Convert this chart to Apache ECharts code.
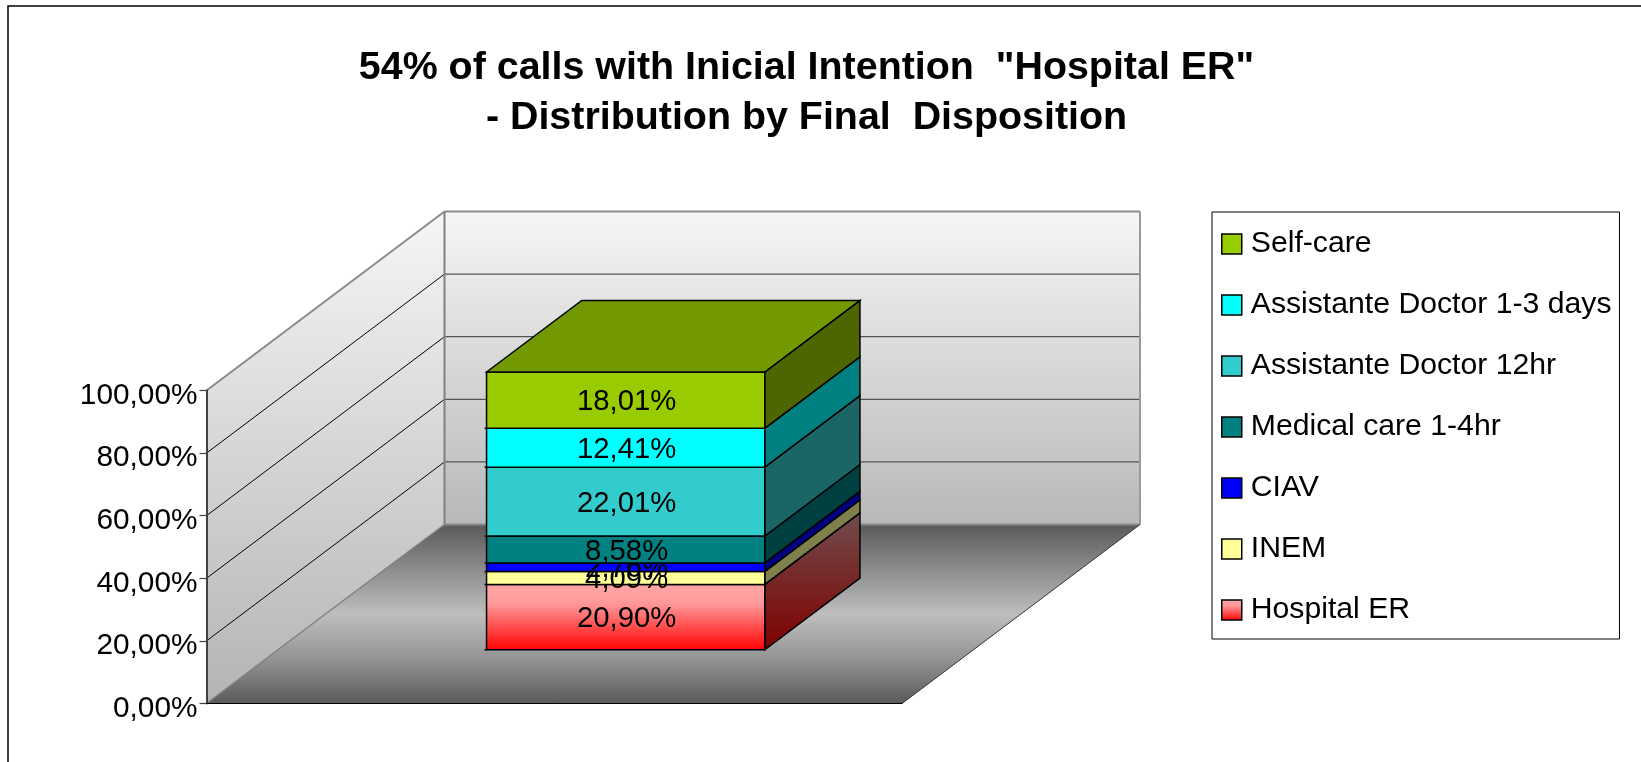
<!DOCTYPE html>
<html><head><meta charset="utf-8">
<style>html,body{margin:0;padding:0;background:#fff}#c{width:1641px;height:762px}</style>
<script src="https://cdn.jsdelivr.net/npm/echarts@6/dist/echarts.min.js"></script>
</head><body><div id="c"></div>
<script>
var categories = [''];
var seriesNames = ['Hospital ER','INEM','CIAV','Medical care 1-4hr','Assistante Doctor 12hr','Assistante Doctor 1-3 days','Self-care'];
var seriesValues = [20.90, 4.09, 2.76, 8.58, 22.01, 12.41, 18.01];
var axisTicks = [0, 20, 40, 60, 80, 100];

function vgrad(stops){return {type:'linear',x:0,y:0,x2:0,y2:1,colorStops:stops.map(function(s){return {offset:s[0],color:s[1]};})};}
var frontColors = [
  vgrad([[0,'#ffa6a6'],[0.3,'#ff9999'],[1,'#ff0000']]),
  '#ffff99','#0000ff','#008080','#33cccc','#00ffff','#99cc00'];
var sideColors = [
  vgrad([[0,'#6f4d4d'],[1,'#800000']]),
  '#80804d','#000080','#004040','#1a6666','#008080','#4d6600'];
var topColor = '#739900';
var DEPTH_X = 238, DEPTH_Y = -179;
var FONT = '"Liberation Sans", Arial, Helvetica, sans-serif';

function fmt(v){return v.toFixed(2).replace('.',',')+'%';}
function project(api, frac, value, depth){
  var c = api.coord([0, value]);
  var band = api.size([1,0])[0];
  return [c[0] + frac*band + depth*DEPTH_X, c[1] + depth*DEPTH_Y];
}
function poly(points, fill, stroke, lw){
  return {type:'polygon',shape:{points:points},style:{fill:fill,stroke:stroke||null,lineWidth:lw||0}};
}
function seg(a,b,stroke,lw){
  return {type:'line',shape:{x1:a[0],y1:a[1],x2:b[0],y2:b[1]},style:{stroke:stroke,lineWidth:lw}};
}

function renderWalls(params, api){
  var P = function(f,v,d){return project(api,f,v,d);};
  var ch = [];
  var wallGrad = vgrad([[0,'#f6f6f6'],[1,'#b8b8b8']]);
  ch.push(poly([P(-.5,0,0),P(-.5,100,0),P(-.5,100,1),P(-.5,0,1)], vgrad([[0,'#f6f6f6'],[1,'#b4b4b4']])));
  ch.push(poly([P(-.5,0,1),P(-.5,100,1),P(.5,100,1),P(.5,0,1)], wallGrad));
  ch.push(poly([P(-.5,0,0),P(-.5,0,1),P(.5,0,1),P(.5,0,0)],
    vgrad([[0,'#5a5a5a'],[0.25,'#8c8c8c'],[0.5,'#bebebe'],[0.75,'#949494'],[1,'#5a5a5a']])));
  axisTicks.forEach(function(t){
    if(t===0) return;
    if(t<100){
      ch.push(seg(P(-.5,t,0),P(-.5,t,1),'#000',1));
    }
    ch.push(seg(P(-.5,t,1),P(.5,t,1),t===100?'#8a8a8a':'#555',t===100?2:1.2));
  });
  ch.push(seg(P(-.5,100,0),P(-.5,100,1),'#8a8a8a',2));
  ch.push(seg(P(-.5,0,1),P(-.5,100,1),'#808080',2));
  ch.push(seg(P(.5,0,1),P(.5,100,1),'#9a9a9a',2));
  ch.push(seg(P(-.5,0,0),P(-.5,0,1),'#808080',1.5));
  ch.push(seg(P(-.5,0,1),P(.5,0,1),'#8a8a8a',2));
  ch.push(seg(P(.5,0,0),P(.5,0,1),'#333',1));
  return {type:'group',children:ch};
}

function makeRender(i){
  return function(params, api){
    var base = 0;
    for(var k=0;k<i;k++) base += seriesValues[k];
    var top = base + seriesValues[i];
    var BW = 0.2, D0 = 0.3, D1 = 0.7;
    var P = function(f,v,d){return project(api,f,v,d);};
    var ch = [];
    var fl=P(-BW,base,D0), fr=P(BW,base,D0), tl=P(-BW,top,D0), tr=P(BW,top,D0);
    var bb=P(BW,base,D1), bt=P(BW,top,D1), tb=P(-BW,top,D1);
    ch.push(poly([fr,tr,bt,bb], sideColors[i], '#000', 1.5));
    ch.push(poly([fl,tl,tr,fr], frontColors[i], '#000', 1.5));
    if(i===seriesValues.length-1){
      ch.push(poly([tl,tb,bt,tr], topColor, '#000', 1.5));
    }
    ch.push(seg([fl[0]-2,fl[1]],fl,'#000',1.5));
    ch.push({type:'text',style:{text:fmt(seriesValues[i]),x:(tl[0]+tr[0])/2+1,y:(tl[1]+fl[1])/2+2,
      align:'center',verticalAlign:'middle',fill:'#000',font:'29.3px '+FONT}});
    return {type:'group',children:ch};
  };
}

var series = [{type:'custom',name:'walls',z:1,silent:true,renderItem:renderWalls,data:[[0,0]],
  encode:{x:0,y:1}}];
seriesNames.forEach(function(n,i){
  series.push({type:'custom',name:n,z:2+i,silent:true,renderItem:makeRender(i),
    data:[[0,seriesValues[i]]],encode:{x:0,y:1},
    itemStyle:{color:frontColors[i],borderColor:'#000',borderWidth:1.5}});
});

var chart = echarts.init(document.getElementById('c'),null,{renderer:'canvas'});
chart.setOption({
  animation:false,
  backgroundColor:'#fff',
  title:{
    text:'54% of calls with Inicial Intention  "Hospital ER"\n- Distribution by Final  Disposition',
    left:801.5,top:38,textAlign:'center',
    textStyle:{fontFamily:FONT,fontWeight:'bold',fontSize:39.4,lineHeight:50,color:'#000'}
  },
  legend:{
    orient:'vertical',left:1212,top:212,
    data:seriesNames.slice().reverse(),
    selectedMode:false,
    icon:'rect',itemWidth:20,itemHeight:20,itemGap:31,
    borderColor:'#000',borderWidth:1,
    padding:[17,8,14,9],
    itemStyle:{borderColor:'#000',borderWidth:1.5},
    textStyle:{fontFamily:FONT,fontSize:30.2,color:'#000',padding:[0,0,0,4]}
  },
  grid:{left:206.5,top:390.5,width:695.5,height:313,containLabel:false},
  xAxis:{type:'category',data:categories,z:3,
    axisLine:{lineStyle:{color:'#000',width:1}},axisTick:{show:false},axisLabel:{show:false},splitLine:{show:false}},
  yAxis:{type:'value',min:0,max:100,interval:20,z:3,
    axisLine:{show:true,lineStyle:{color:'#404040',width:2}},
    axisTick:{show:true,length:7,lineStyle:{color:'#404040',width:1.2}},
    splitLine:{show:false},
    axisLabel:{margin:9,color:'#000',fontFamily:FONT,fontSize:29.8,verticalAlign:'top',lineHeight:10,formatter:function(v){return v.toFixed(2).replace('.',',')+'%';}}
  },
  graphic:[{type:'rect',silent:true,z:-1,shape:{x:8,y:6,width:1700,height:900},
    style:{fill:null,stroke:'#000',lineWidth:1.5}}],
  series:series
});
</script></body></html>
